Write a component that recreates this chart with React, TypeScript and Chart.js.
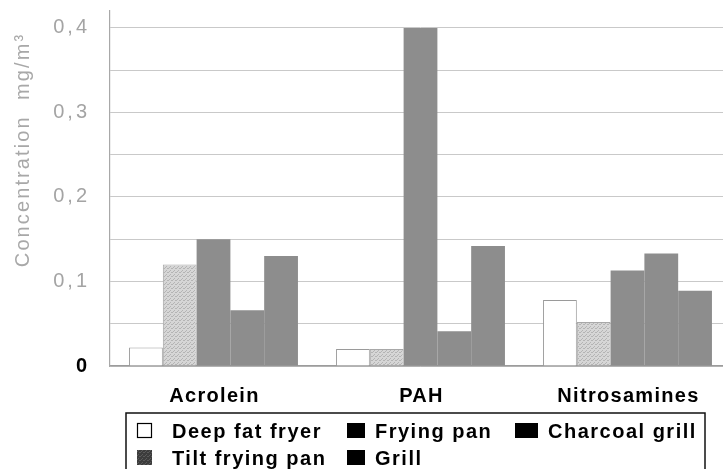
import React, { useEffect, useRef } from 'react';
import { Chart, registerables } from 'chart.js';

Chart.register(...registerables);

// Airborne concentrations measured above different cooking appliances
const categories = ['Acrolein', 'PAH', 'Nitrosamines'];
const seriesNames = ['Deep fat fryer', 'Tilt frying pan', 'Frying pan', 'Grill', 'Charcoal grill'];
const deepFatFryer = [0.022, 0.02, 0.078];
const tiltFryingPan = [0.12, 0.02, 0.052];
const fryingPan = [0.15, 0.4, 0.113];
const grill = [0.066, 0.041, 0.133];
const charcoalGrill = [0.13, 0.142, 0.089];
const yTickValues = [0, 0.1, 0.2, 0.3, 0.4];
const yTickLabels = ['0', '0,1', '0,2', '0,3', '0,4'];
const yTitle = 'Concentration  mg/m³';

const FONT = '"Liberation Sans", Arial, Helvetica, sans-serif';
const TICK_GREY = '#a4a4a4';
const BAR_GREY = '#8d8d8d';

function makeDotPattern(base: string, dot: string): CanvasPattern | string {
  const c = document.createElement('canvas');
  c.width = 4;
  c.height = 4;
  const g = c.getContext('2d');
  if (!g) return base;
  g.fillStyle = base;
  g.fillRect(0, 0, 4, 4);
  g.fillStyle = dot;
  g.fillRect(0, 0, 1, 1);
  g.fillRect(2, 2, 1, 1);
  g.fillRect(3, 0, 1, 1);
  g.fillRect(1, 3, 1, 1);
  return g.createPattern(c, 'repeat') || base;
}

export default function App() {
  const canvasRef = useRef<HTMLCanvasElement | null>(null);

  useEffect(() => {
    const canvas = canvasRef.current;
    if (!canvas) return;

    const tiltFill = makeDotPattern('#d6d6d6', '#b4b4b4');
    const tiltLegendFill = makeDotPattern('#3c3c3c', '#5a5a5a');

    const seriesValues = [deepFatFryer, tiltFryingPan, fryingPan, grill, charcoalGrill];
    const fills: (string | CanvasPattern)[] = ['#ffffff', tiltFill, BAR_GREY, BAR_GREY, BAR_GREY];
    const borders = ['#9a9a9a', '#a8a8a8', BAR_GREY, BAR_GREY, BAR_GREY];
    const legendFills: (string | CanvasPattern)[] = ['#ffffff', tiltLegendFill, '#000', '#000', '#000'];

    // legend geometry: two rows, filled column by column
    const legendCols = [137, 347, 515];
    const legendSwatchW = [15, 18, 23];
    const legendTextX = [172, 375, 548];
    const legendRowsY = [438, 465];

    const decorations = {
      id: 'decorations',
      beforeDraw(chart: any) {
        chart.ctx.letterSpacing = '3px';
      },
      afterDraw(chart: any) {
        const ctx = chart.ctx as CanvasRenderingContext2D;
        const xScale = chart.scales.x;
        ctx.save();

        // category labels under each group
        ctx.letterSpacing = '1.3px';
        ctx.font = `bold 20px ${FONT}`;
        ctx.fillStyle = '#000';
        ctx.textAlign = 'center';
        ctx.textBaseline = 'alphabetic';
        categories.forEach((c, i) => {
          ctx.fillText(c, xScale.getPixelForValue(i) + 1, 402);
        });

        // y-axis title
        ctx.save();
        ctx.translate(23, 150);
        ctx.rotate(-Math.PI / 2);
        ctx.letterSpacing = '2.1px';
        ctx.font = `20px ${FONT}`;
        ctx.fillStyle = '#a8a8a8';
        ctx.textAlign = 'center';
        ctx.textBaseline = 'middle';
        ctx.fillText(yTitle, 0, 0);
        ctx.restore();

        // legend frame
        ctx.strokeStyle = '#111';
        ctx.lineWidth = 1.5;
        ctx.strokeRect(126, 413, 705 - 126, 80);

        ctx.letterSpacing = '1.5px';
        ctx.font = `bold 20px ${FONT}`;
        ctx.textAlign = 'left';
        seriesNames.forEach((name, i) => {
          const col = Math.floor(i / 2);
          const row = i % 2;
          const base = legendRowsY[row];
          const sx = legendCols[col];
          const sw = legendSwatchW[col];
          ctx.fillStyle = legendFills[i] as any;
          ctx.fillRect(sx, base - 15, sw, 15);
          if (i === 0) {
            ctx.strokeStyle = '#000';
            ctx.lineWidth = 1.2;
            ctx.strokeRect(sx + 0.5, base - 14.5, sw - 1, 14);
          }
          ctx.fillStyle = '#000';
          ctx.fillText(name, legendTextX[col], base);
        });

        ctx.restore();
        ctx.letterSpacing = '0px';
      },
    };

    const chart = new Chart(canvas, {
      type: 'bar',
      data: {
        labels: categories,
        datasets: seriesNames.map((name, i) => ({
          label: name,
          data: seriesValues[i],
          backgroundColor: fills[i] as any,
          borderColor: borders[i],
          borderWidth: i < 2 ? 1 : 0,
          barPercentage: 1,
          categoryPercentage: 0.816,
        })),
      },
      options: {
        responsive: false,
        animation: false,
        devicePixelRatio: 1,
        layout: { padding: { top: 11, right: 4, left: 0, bottom: 0 } },
        plugins: {
          legend: { display: false },
          tooltip: { enabled: false },
        },
        scales: {
          x: {
            grid: { color: 'rgba(0,0,0,0)', drawTicks: false },
            ticks: { display: false },
            border: { color: '#9c9c9c', width: 1.5 },
            afterFit: (s: any) => {
              s.height = 103;
            },
          },
          y: {
            min: 0,
            max: 0.42,
            ticks: {
              stepSize: 0.05,
              includeBounds: false,
              padding: 20,
              color: (ctx: any) => (ctx.tick && ctx.tick.value === 0 ? '#000' : TICK_GREY),
              font: (ctx: any) =>
                ctx.tick && ctx.tick.value === 0
                  ? { family: FONT, size: 20, weight: 'bold' }
                  : { family: FONT, size: 20 },
              callback: (v: any) => {
                const idx = yTickValues.findIndex((t) => Math.abs(t - Number(v)) < 1e-6);
                return idx >= 0 ? yTickLabels[idx] : '';
              },
            },
            grid: { color: '#c9c9c9', lineWidth: 1, drawTicks: false },
            border: { color: '#a8a8a8', width: 1.2 },
            afterBuildTicks: (s: any) => {
              s.ticks = s.ticks.filter(
                (t: any) => Math.abs(t.value / 0.05 - Math.round(t.value / 0.05)) < 1e-6,
              );
            },
            afterFit: (s: any) => {
              s.width = 110;
              s.paddingTop = 0;
              s.paddingBottom = 0;
            },
          },
        },
      },
      plugins: [decorations],
    });

    return () => chart.destroy();
  }, []);

  return (
    <div
      style={{
        position: 'fixed',
        left: 0,
        top: 0,
        width: 723,
        height: 469,
        overflow: 'hidden',
        background: '#fff',
      }}
    >
      <canvas ref={canvasRef} width={735} height={469} style={{ display: 'block' }} />
    </div>
  );
}
